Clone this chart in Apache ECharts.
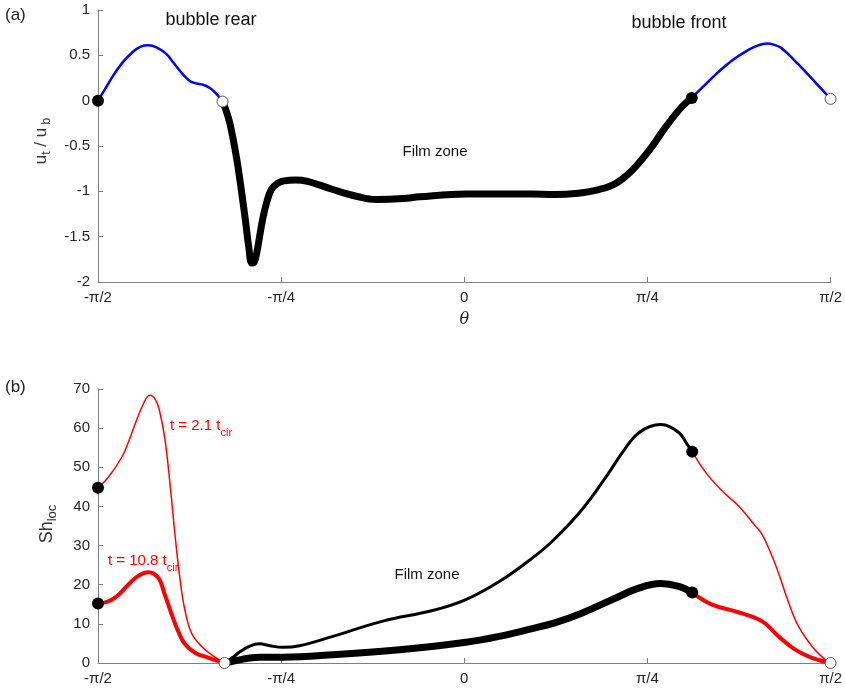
<!DOCTYPE html>
<html><head><meta charset="utf-8">
<script src="https://cdn.jsdelivr.net/npm/echarts@6/dist/echarts.min.js"></script>
<style>html,body{margin:0;padding:0;background:#fff}#c{width:845px;height:691px}</style>
</head><body><div id="c"></div>
<script>
// ---------- tick labels (theta in degrees) ----------
const xTickValues = [-90, -45, 0, 45, 90];
const xTickLabels = ['-π/2', '-π/4', '0', 'π/4', 'π/2'];

// ---------- panel (a): u_t / u_b ----------
const topRearTheta = [-90, -88.5, -86.5, -84, -81.4, -79.5, -77.7, -75.5, -73.1, -71.5, -69.9, -68.5, -67.2, -65.8, -64.2, -62.5, -61, -59.4];
const topRearU     = [0, 0.11, 0.26, 0.42, 0.54, 0.595, 0.61, 0.585, 0.51, 0.42, 0.33, 0.26, 0.21, 0.19, 0.175, 0.14, 0.08, -0.01];

const topFilmTheta = [-59.4, -58.6, -57.6, -56.0, -54.8, -53.7, -53.0, -52.2, -51.6, -51.0, -50.3, -49.5, -48.6, -47.4, -45.8, -44.3, -41.5, -38.5, -32.3, -26, -21.6, -15, -11.0, 0.5, 10, 16.7, 22, 28, 33.1, 37.3, 41.2, 45.4, 49.5, 53.4, 55.9];
const topFilmU     = [-0.01, -0.1, -0.25, -0.62, -0.98, -1.35, -1.6, -1.79, -1.78, -1.68, -1.5, -1.3, -1.13, -0.98, -0.91, -0.885, -0.875, -0.89, -0.98, -1.06, -1.09, -1.08, -1.06, -1.03, -1.03, -1.03, -1.035, -1.02, -0.98, -0.91, -0.77, -0.55, -0.29, -0.07, 0.03];

const topFrontTheta = [55.9, 58.8, 61.8, 65.7, 69.8, 72.2, 74.3, 76.2, 77.9, 82.1, 86.3, 90];
const topFrontU     = [0.03, 0.16, 0.29, 0.44, 0.56, 0.61, 0.63, 0.615, 0.58, 0.40, 0.20, 0.02];

// ---------- panel (b): Sh_loc ----------
// t = 2.1 t_cir
const sh21RearTheta = [-90, -87.5, -84.2, -82.5, -80.9, -78.5, -77.25, -75.9, -74.9, -73.6, -72.3, -71.1, -69.9, -68.7, -67.0, -64.6, -62.1, -58.9];
const sh21Rear      = [44.8, 47.4, 52.5, 56.5, 61.0, 67.0, 68.4, 67.3, 64.5, 57.5, 45.7, 32.9, 21.8, 13.8, 7.6, 4.3, 2.1, 0];
const sh21FilmTheta = [-58.9, -56.9, -55.2, -52.7, -50.3, -47.8, -44.6, -40.5, -32.3, -20.0, -7.8, 0.4, 8.6, 16.7, 22, 29.0, 35, 39, 43, 48.2, 52.7, 54.8, 56];
const sh21Film      = [0, 1.4, 2.8, 4.3, 4.9, 4.4, 4.0, 4.4, 6.8, 10.7, 13.4, 16.2, 20.8, 26.8, 31.5, 39.3, 47.8, 54.0, 58.9, 60.9, 58.9, 55.8, 54.0];
const sh21FrontTheta = [56, 59.3, 63.3, 67.4, 71.5, 73.2, 75.5, 77.2, 79.7, 82.1, 85.4, 88.7, 90];
const sh21Front      = [54.0, 48.7, 44.0, 40.1, 35.0, 32.8, 27.6, 23.0, 15.4, 9.4, 4.3, 0.8, 0];

// t = 10.8 t_cir
const sh108RearTheta = [-90, -87.8, -85.8, -84.2, -82.6, -80.2, -77.7, -75.2, -73.6, -71.9, -70.3, -68.7, -66.2, -63.0, -58.9];
const sh108Rear      = [15.2, 15.6, 16.7, 18.2, 20.0, 22.2, 23.2, 21.8, 17.5, 12.4, 8.1, 4.9, 2.6, 1.4, 0];
const sh108FilmTheta = [-58.9, -55.2, -52.7, -50.3, -44.6, -32.3, -15.9, 0.4, 8.6, 16.7, 22, 29.0, 37.2, 42.5, 48.2, 52.7, 56];
const sh108Film      = [0, 0.8, 1.3, 1.5, 1.5, 2.1, 3.4, 5.3, 6.8, 8.8, 10.2, 12.8, 16.6, 19.0, 20.3, 19.6, 18.0];
const sh108FrontTheta = [56, 60.9, 66.6, 73.1, 77.2, 81.3, 85.4, 90];
const sh108Front      = [18.0, 14.9, 13.2, 10.7, 6.8, 3.4, 1.3, 0];

// ---------- helpers ----------
const zip = (xs, ys) => xs.map((x, i) => [x, ys[i]]);
const first = (xs, ys) => [xs[0], ys[0]];
const last = (xs, ys) => [xs[xs.length - 1], ys[ys.length - 1]];

const FONT = 'Liberation Sans, Arial, Helvetica, sans-serif';
const AXIS_COLOR = '#808080';
const LABEL_COLOR = '#262626';

function xAxisCfg(gridIndex, name) {
  return {
    type: 'value', gridIndex, min: -90, max: 90, interval: 45,
    name: name || '', nameLocation: 'middle', nameGap: 30,
    nameTextStyle: { fontFamily: 'DejaVu Serif, serif', fontStyle: 'italic', fontSize: 16, color: LABEL_COLOR },
    axisLine: { show: true, onZero: false, lineStyle: { color: AXIS_COLOR, width: 1 } },
    axisTick: { show: true, inside: true, length: 5, lineStyle: { color: AXIS_COLOR } },
    axisLabel: { margin: 8, fontSize: 15, fontFamily: FONT, color: LABEL_COLOR,
      formatter: v => { const i = xTickValues.indexOf(Math.round(v)); return i >= 0 ? xTickLabels[i] : ''; } },
    splitLine: { show: false }
  };
}
function yAxisCfg(gridIndex, min, max, interval) {
  return {
    type: 'value', gridIndex, min, max, interval,
    axisLine: { show: true, onZero: false, lineStyle: { color: AXIS_COLOR, width: 1 } },
    axisTick: { show: true, inside: true, length: 5, lineStyle: { color: AXIS_COLOR } },
    axisLabel: { margin: 8, fontSize: 15, fontFamily: FONT, color: LABEL_COLOR },
    splitLine: { show: false }
  };
}
function lineSeries(xi, data, color, width, z) {
  return {
    type: 'line', xAxisIndex: xi, yAxisIndex: xi, data, showSymbol: false, symbol: 'none',
    smooth: 0.4, lineStyle: { color, width, cap: 'round', join: 'round' }, z: z || 2, silent: true
  };
}
function dotSeries(xi, data, filled) {
  return {
    type: 'scatter', xAxisIndex: xi, yAxisIndex: xi, data, symbol: 'circle',
    symbolSize: filled ? 12 : 11, z: 10, silent: true,
    itemStyle: filled ? { color: '#000', opacity: 1 } : { color: '#fff', borderColor: '#555', borderWidth: 1, opacity: 1 }
  };
}

const chart = echarts.init(document.getElementById('c'), null, { renderer: 'canvas' });
const RED = '#ff0000', BLUE = '#0000ff';

const option = {
  animation: false,
  backgroundColor: '#fff',
  grid: [
    { left: 98, right: 13, top: 10, height: 272 },
    { left: 98, right: 13, top: 389, height: 274 }
  ],
  xAxis: [xAxisCfg(0, 'θ'), xAxisCfg(1)],
  yAxis: [yAxisCfg(0, -2, 1, 0.5), yAxisCfg(1, 0, 70, 10)],
  series: [
    lineSeries(0, zip(topRearTheta, topRearU), BLUE, 2.5),
    lineSeries(0, zip(topFilmTheta, topFilmU), '#000', 7, 3),
    lineSeries(0, zip(topFrontTheta, topFrontU), BLUE, 2.5),
    dotSeries(0, [first(topRearTheta, topRearU), first(topFrontTheta, topFrontU)], true),
    dotSeries(0, [last(topRearTheta, topRearU), last(topFrontTheta, topFrontU)], false),

    lineSeries(1, zip(sh21RearTheta, sh21Rear), RED, 1.5),
    lineSeries(1, zip(sh21FilmTheta, sh21Film), '#000', 3),
    lineSeries(1, zip(sh21FrontTheta, sh21Front), RED, 1.5),
    lineSeries(1, zip(sh108RearTheta, sh108Rear), RED, 4),
    lineSeries(1, zip(sh108FilmTheta, sh108Film), '#000', 7),
    lineSeries(1, zip(sh108FrontTheta, sh108Front), RED, 4),
    dotSeries(1, [first(sh21RearTheta, sh21Rear), first(sh108RearTheta, sh108Rear),
                  first(sh21FrontTheta, sh21Front), first(sh108FrontTheta, sh108Front)], true),
    dotSeries(1, [last(sh21RearTheta, sh21Rear), last(sh21FrontTheta, sh21Front)], false)
  ],
  graphic: [
    { type: 'text', x: 5, y: 15, style: { text: '(a)', fontSize: 17, fontFamily: FONT, fill: '#222', align: 'left', verticalAlign: 'middle' } },
    { type: 'text', x: 5, y: 387, style: { text: '(b)', fontSize: 17, fontFamily: FONT, fill: '#222', align: 'left', verticalAlign: 'middle' } },
    { type: 'text', x: 211, y: 20, style: { text: 'bubble rear', fontSize: 18, fontFamily: FONT, fill: '#111', align: 'center', verticalAlign: 'middle' } },
    { type: 'text', x: 679, y: 23, style: { text: 'bubble front', fontSize: 18, fontFamily: FONT, fill: '#111', align: 'center', verticalAlign: 'middle' } },
    { type: 'text', x: 435, y: 152, style: { text: 'Film zone', fontSize: 15, fontFamily: FONT, fill: '#111', align: 'center', verticalAlign: 'middle' } },
    { type: 'text', x: 427, y: 575, style: { text: 'Film zone', fontSize: 15, fontFamily: FONT, fill: '#111', align: 'center', verticalAlign: 'middle' } },
    { type: 'text', x: 41, y: 141, rotation: Math.PI / 2,
      style: { text: '{m|u}{s|t}{m| / u}{s| b}', align: 'center', verticalAlign: 'middle', fontFamily: FONT,
        rich: { m: { fontSize: 17, lineHeight: 24, fill: '#333', fontFamily: FONT },
                s: { fontSize: 12, lineHeight: 12, verticalAlign: 'bottom', fill: '#333', fontFamily: FONT } } } },
    { type: 'text', x: 47, y: 524, rotation: Math.PI / 2,
      style: { text: '{m|Sh}{s|loc}', align: 'center', verticalAlign: 'middle', fontFamily: FONT,
        rich: { m: { fontSize: 18, lineHeight: 24, fill: '#333', fontFamily: FONT },
                s: { fontSize: 13, lineHeight: 12, verticalAlign: 'bottom', fill: '#333', fontFamily: FONT } } } },
    { type: 'text', x: 170, y: 426,
      style: { text: '{m|t = 2.1 t}{s|cir}', align: 'left', verticalAlign: 'middle', fontFamily: FONT,
        rich: { m: { fontSize: 15, lineHeight: 24, fill: RED, fontFamily: FONT },
                s: { fontSize: 11, lineHeight: 12, verticalAlign: 'bottom', fill: RED, fontFamily: FONT } } } },
    { type: 'text', x: 108, y: 561,
      style: { text: '{m|t = 10.8 t}{s|cir}', align: 'left', verticalAlign: 'middle', fontFamily: FONT,
        rich: { m: { fontSize: 15, lineHeight: 24, fill: RED, fontFamily: FONT },
                s: { fontSize: 11, lineHeight: 12, verticalAlign: 'bottom', fill: RED, fontFamily: FONT } } } }
  ]
};
chart.setOption(option);
</script>
</body></html>
